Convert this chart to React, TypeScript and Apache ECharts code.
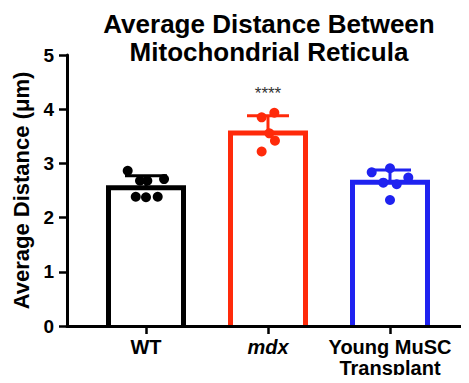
import React, { useEffect, useRef } from "react";
import * as echarts from "echarts";

const categories = ["WT", "mdx", "Young MuSC\nTransplant"];
const italicCategories = [false, true, false];
const means = [2.55, 3.56, 2.65];
const sds = [0.22, 0.32, 0.23];
const significance = ["", "****", ""];
const groupColors = ["#000000", "#ff2a0a", "#1f22f0"];

const wtValues = [2.865, 2.68, 2.68, 2.71, 2.385, 2.375, 2.385];
const wtJitter = [-0.15, -0.049, 0.011, 0.148, -0.084, 0, 0.096];
const mdxValues = [3.85, 3.935, 3.555, 3.42, 3.22];
const mdxJitter = [-0.052, 0.052, 0.011, 0.057, -0.052];
const muscValues = [2.835, 2.91, 2.74, 2.645, 2.615, 2.325];
const muscJitter = [-0.15, 0, 0.15, -0.055, 0.055, 0];

const yTicks = [0, 1, 2, 3, 4, 5];

const FONT = "'Liberation Sans', Arial, Helvetica, sans-serif";
const BAR_W = 75;

export default function App() {
  const ref = useRef<HTMLDivElement>(null);
  useEffect(() => {
    if (!ref.current) return;
    const chart = echarts.init(ref.current, undefined, { renderer: "svg" });
    const points = [
      { vals: wtValues, jit: wtJitter },
      { vals: mdxValues, jit: mdxJitter },
      { vals: muscValues, jit: muscJitter },
    ];
    const scatterSeries = points.map((p, gi) => ({
      type: "scatter",
      z: 5,
      symbol: "circle",
      symbolSize: 10,
      itemStyle: { color: groupColors[gi], opacity: 1 },
      data: p.vals.map((v, k) => [gi + p.jit[k], v]),
    }));
    const option: any = {
      animation: false,
      backgroundColor: "#ffffff",
      textStyle: { fontFamily: FONT },
      title: {
        text: "Average Distance Between\nMitochondrial Reticula",
        left: 264,
        top: 5,
        textAlign: "center",
        textStyle: {
          fontFamily: FONT,
          fontSize: 26,
          fontWeight: "bold",
          lineHeight: 28,
          color: "#000",
        },
      },
      grid: { left: 67, right: 0, top: 55, bottom: 57, containLabel: false },
      xAxis: {
        type: "value",
        min: -0.6475,
        max: 2.6475,
        z: 10,
        splitLine: { show: false },
        axisLine: { show: true, onZero: false, lineStyle: { color: "#000", width: 3 } },
        axisTick: {
          show: true,
          length: 8,
          lineStyle: { color: "#000", width: 2.5 },
          customValues: [0, 1, 2],
        },
        axisLabel: {
          show: true,
          customValues: [0, 1, 2],
          margin: 10,
          fontFamily: FONT,
          fontSize: 20,
          fontWeight: "bold",
          lineHeight: 21,
          color: "#000",
          formatter: (v: number) => {
            const i = Math.round(v);
            const t = categories[i] ?? "";
            return italicCategories[i] ? "{i|" + t + "}" : t;
          },
          rich: {
            i: {
              fontFamily: FONT,
              fontSize: 20,
              fontWeight: "bold",
              fontStyle: "italic",
              color: "#000",
            },
          },
        },
      },
      yAxis: {
        type: "value",
        min: yTicks[0],
        max: yTicks[yTicks.length - 1],
        interval: 1,
        name: "Average Distance (\u03bcm)",
        nameLocation: "middle",
        nameGap: 32,
        nameTextStyle: {
          fontFamily: FONT,
          fontSize: 22,
          fontWeight: "bold",
          color: "#000",
        },
        splitLine: { show: false },
        axisLine: { show: true, onZero: false, lineStyle: { color: "#000", width: 3 } },
        axisTick: { show: true, length: 8, lineStyle: { color: "#000", width: 2.5 } },
        axisLabel: {
          margin: 13,
          fontFamily: FONT,
          fontSize: 19,
          fontWeight: "bold",
          color: "#000",
        },
      },
      series: [
        {
          type: "bar",
          barWidth: BAR_W,
          z: 2,
          data: means.map((m, i) => ({
            value: [i, m],
            itemStyle: { color: "#ffffff" },
          })),
        },
        {
          type: "custom",
          z: 3,
          data: means.map((m, i) => [i, m]),
          renderItem: (params: any, api: any) => {
            const i = params.dataIndex;
            const top = api.coord([api.value(0), api.value(1)]);
            const bottom = api.coord([api.value(0), 0]);
            const h = BAR_W / 2;
            return {
              type: "polyline",
              shape: {
                points: [
                  [top[0] - h, bottom[1]],
                  [top[0] - h, top[1]],
                  [top[0] + h, top[1]],
                  [top[0] + h, bottom[1]],
                ],
              },
              style: { stroke: groupColors[i], lineWidth: 5, fill: "none", lineJoin: "miter" },
            };
          },
        },
        {
          type: "custom",
          z: 4,
          data: means.map((m, i) => [i, m, m + sds[i]]),
          renderItem: (params: any, api: any) => {
            const i = params.dataIndex;
            const base = api.coord([api.value(0), api.value(1)]);
            const top = api.coord([api.value(0), api.value(2)]);
            const half = 21;
            const color = groupColors[i];
            const children: any[] = [
              {
                type: "line",
                shape: { x1: base[0], y1: base[1], x2: top[0], y2: top[1] },
                style: { stroke: color, lineWidth: 3 },
              },
              {
                type: "line",
                shape: { x1: top[0] - half, y1: top[1], x2: top[0] + half, y2: top[1] },
                style: { stroke: color, lineWidth: 3 },
              },
            ];
            if (significance[i]) {
              children.push({
                type: "text",
                style: {
                  text: significance[i],
                  x: top[0],
                  y: top[1] - 22,
                  textAlign: "center",
                  textVerticalAlign: "middle",
                  fontFamily: FONT,
                  fontSize: 17,
                  fill: "#333",
                },
              });
            }
            return { type: "group", children };
          },
        },
        ...scatterSeries,
      ],
    };
    chart.setOption(option);
    return () => chart.dispose();
  }, []);
  return <div ref={ref} style={{ width: 469, height: 383, margin: -8 }} />;
}
